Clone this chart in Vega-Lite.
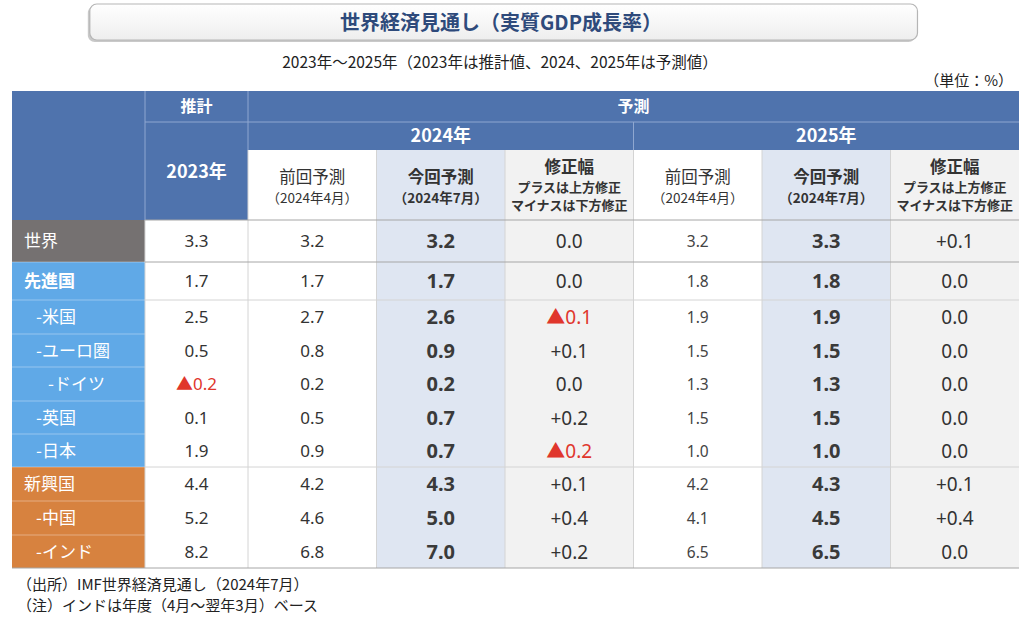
{
  "$schema": "https://vega.github.io/schema/vega-lite/v6.json",
  "width": 1024,
  "height": 617,
  "autosize": {"type": "fit", "contains": "padding"},
  "padding": 0,
  "background": "white",
  "config": {"view": {"stroke": null}},
  "datasets": {
    "boxes": [{"c": 0.585, "c2": 7.21, "r": -5, "r2": -3}],
    "cols": [
      {"k": "name", "c": 0},
      {"k": "y23", "c": 1.5}, {"k": "p24", "c": 2.5}, {"k": "n24", "c": 3.5}, {"k": "d24", "c": 4.5},
      {"k": "p25", "c": 5.5}, {"k": "n25", "c": 6.5}, {"k": "d25", "c": 7.5}
    ],
    "rows": [
      {"name": "世界", "lv": 0, "r": 3.5, "y23": "3.3", "p24": "3.2", "n24": "3.2", "d24": "0.0", "p25": "3.2", "n25": "3.3", "d25": "+0.1"},
      {"name": "先進国", "lv": 0, "r": 4.5, "y23": "1.7", "p24": "1.7", "n24": "1.7", "d24": "0.0", "p25": "1.8", "n25": "1.8", "d25": "0.0"},
      {"name": "-米国", "lv": 1, "r": 5.5, "y23": "2.5", "p24": "2.7", "n24": "2.6", "d24": "▲0.1", "p25": "1.9", "n25": "1.9", "d25": "0.0"},
      {"name": "-ユーロ圏", "lv": 1, "r": 6.5, "y23": "0.5", "p24": "0.8", "n24": "0.9", "d24": "+0.1", "p25": "1.5", "n25": "1.5", "d25": "0.0"},
      {"name": "-ドイツ", "lv": 2, "r": 7.5, "y23": "▲0.2", "p24": "0.2", "n24": "0.2", "d24": "0.0", "p25": "1.3", "n25": "1.3", "d25": "0.0"},
      {"name": "-英国", "lv": 1, "r": 8.5, "y23": "0.1", "p24": "0.5", "n24": "0.7", "d24": "+0.2", "p25": "1.5", "n25": "1.5", "d25": "0.0"},
      {"name": "-日本", "lv": 1, "r": 9.5, "y23": "1.9", "p24": "0.9", "n24": "0.7", "d24": "▲0.2", "p25": "1.0", "n25": "1.0", "d25": "0.0"},
      {"name": "新興国", "lv": 0, "r": 10.5, "y23": "4.4", "p24": "4.2", "n24": "4.3", "d24": "+0.1", "p25": "4.2", "n25": "4.3", "d25": "+0.1"},
      {"name": "-中国", "lv": 1, "r": 11.5, "y23": "5.2", "p24": "4.6", "n24": "5.0", "d24": "+0.4", "p25": "4.1", "n25": "4.5", "d25": "+0.4"},
      {"name": "-インド", "lv": 1, "r": 12.5, "y23": "8.2", "p24": "6.8", "n24": "7.0", "d24": "+0.2", "p25": "6.5", "n25": "6.5", "d25": "0.0"}
    ],
    "bg": [
      {"c": 0, "c2": 8, "r": 0, "r2": 3, "k": "head"},
      {"c": 2, "c2": 3, "r": 2, "r2": 3, "k": "white"},
      {"c": 5, "c2": 6, "r": 2, "r2": 3, "k": "white"},
      {"c": 3, "c2": 4, "r": 2, "r2": 13, "k": "now"},
      {"c": 6, "c2": 7, "r": 2, "r2": 13, "k": "now"},
      {"c": 4, "c2": 5, "r": 2, "r2": 13, "k": "rev"},
      {"c": 7, "c2": 8, "r": 2, "r2": 13, "k": "rev"},
      {"c": 0, "c2": 1, "r": 3, "r2": 4, "k": "world"},
      {"c": 0, "c2": 1, "r": 4, "r2": 10, "k": "adv"},
      {"c": 0, "c2": 1, "r": 10, "r2": 13, "k": "emg"}
    ],
    "lines": [
      {"c": 1, "c2": 8, "r": 1, "r2": 1, "k": "hd"},
      {"c": 1, "c2": 1, "r": 0, "r2": 3, "k": "hd"},
      {"c": 2, "c2": 2, "r": 0, "r2": 2, "k": "hd"},
      {"c": 5, "c2": 5, "r": 1, "r2": 2, "k": "hd"},
      {"c": 0, "c2": 1, "r": 4, "r2": 4, "k": "lab"},
      {"c": 0, "c2": 1, "r": 5, "r2": 5, "k": "lab"},
      {"c": 0, "c2": 1, "r": 6, "r2": 6, "k": "lab"},
      {"c": 0, "c2": 1, "r": 7, "r2": 7, "k": "lab"},
      {"c": 0, "c2": 1, "r": 8, "r2": 8, "k": "lab"},
      {"c": 0, "c2": 1, "r": 9, "r2": 9, "k": "lab"},
      {"c": 0, "c2": 1, "r": 10, "r2": 10, "k": "lab"},
      {"c": 0, "c2": 1, "r": 11, "r2": 11, "k": "lab"},
      {"c": 0, "c2": 1, "r": 12, "r2": 12, "k": "lab"},
      {"c": 1, "c2": 1, "r": 3, "r2": 13, "k": "grid"},
      {"c": 2, "c2": 2, "r": 2, "r2": 13, "k": "grid"},
      {"c": 3, "c2": 3, "r": 2, "r2": 13, "k": "grid"},
      {"c": 4, "c2": 4, "r": 2, "r2": 13, "k": "grid"},
      {"c": 5, "c2": 5, "r": 2, "r2": 13, "k": "grid"},
      {"c": 6, "c2": 6, "r": 2, "r2": 13, "k": "grid"},
      {"c": 7, "c2": 7, "r": 2, "r2": 13, "k": "grid"},
      {"c": 1, "c2": 8, "r": 5, "r2": 5, "k": "grid"},
      {"c": 1, "c2": 8, "r": 10, "r2": 10, "k": "grid"},
      {"c": 1, "c2": 8, "r": 3, "r2": 3, "k": "major"},
      {"c": 1, "c2": 8, "r": 4, "r2": 4, "k": "major"},
      {"c": 0, "c2": 8, "r": 13, "r2": 13, "k": "major"}
    ],
    "texts": [
      {"t": "世界経済見通し（実質GDP成長率）", "c": 4, "r": -4, "s": "title"},
      {"t": "2023年～2025年（2023年は推計値、2024、2025年は予測値）", "c": 4, "r": -2, "s": "sub"},
      {"t": "（単位：%）", "c": 8, "r": -1, "s": "unit"},
      {"t": "（出所）IMF世界経済見通し（2024年7月）", "c": 0, "r": 14, "s": "foot"},
      {"t": "（注）インドは年度（4月～翌年3月）ベース", "c": 0, "r": 15, "s": "foot"},
      {"t": "推計", "c": 1.5, "r": 0.5, "s": "h1"},
      {"t": "予測", "c": 5, "r": 0.5, "s": "h1"},
      {"t": "2024年", "c": 3.5, "r": 1.5, "s": "h2"},
      {"t": "2025年", "c": 6.5, "r": 1.5, "s": "h2"},
      {"t": "2023年", "c": 1.5, "r": 2, "s": "h2s"},
      {"t": "前回予測", "c": 2.5, "r": 2.5, "s": "s1"},
      {"t": "（2024年4月）", "c": 2.5, "r": 2.5, "s": "s2"},
      {"t": "今回予測", "c": 3.5, "r": 2.5, "s": "b1"},
      {"t": "（2024年7月）", "c": 3.5, "r": 2.5, "s": "b2"},
      {"t": "修正幅", "c": 4.5, "r": 2.5, "s": "m1"},
      {"t": "プラスは上方修正", "c": 4.5, "r": 2.5, "s": "m2"},
      {"t": "マイナスは下方修正", "c": 4.5, "r": 2.5, "s": "m3"},
      {"t": "前回予測", "c": 5.5, "r": 2.5, "s": "s1"},
      {"t": "（2024年4月）", "c": 5.5, "r": 2.5, "s": "s2"},
      {"t": "今回予測", "c": 6.5, "r": 2.5, "s": "b1"},
      {"t": "（2024年7月）", "c": 6.5, "r": 2.5, "s": "b2"},
      {"t": "修正幅", "c": 7.5, "r": 2.5, "s": "m1"},
      {"t": "プラスは上方修正", "c": 7.5, "r": 2.5, "s": "m2"},
      {"t": "マイナスは下方修正", "c": 7.5, "r": 2.5, "s": "m3"}
    ]
  },
  "encoding": {
    "x": {"field": "c", "type": "quantitative", "axis": null,
      "scale": {"type": "linear", "domain": [0, 1, 2, 8], "range": [12, 145, 248, 1019], "nice": false, "zero": false}},
    "y": {"field": "r", "type": "quantitative", "axis": null,
      "scale": {"type": "linear", "domain": [-5, -4, -3, -2, -1, 0, 1, 2, 3, 4, 5, 6, 7, 8, 9, 10, 11, 12, 13, 14, 15],
        "range": [4, 24, 40, 63, 81, 91, 122, 150, 220, 262, 300, 334, 367, 401, 434, 467, 501, 535, 568, 585, 606], "nice": false, "zero": false}}
  },
  "layer": [
    {"data": {"name": "boxes"},
      "mark": {"type": "rect", "cornerRadius": 7, "fill": "#C9C9C9", "xOffset": -2, "x2Offset": -2, "yOffset": 2, "y2Offset": 2},
      "encoding": {"x2": {"field": "c2"}, "y2": {"field": "r2"}}},
    {"data": {"name": "boxes"},
      "mark": {"type": "rect", "cornerRadius": 7, "stroke": "#B5B5B5", "strokeWidth": 1.2,
        "fill": {"gradient": "linear", "x1": 0, "y1": 0, "x2": 0, "y2": 1, "stops": [{"offset": 0, "color": "#FFFFFF"}, {"offset": 1, "color": "#EEEEEE"}]}},
      "encoding": {"x2": {"field": "c2"}, "y2": {"field": "r2"}}},
    {"data": {"name": "bg"},
      "mark": {"type": "rect"},
      "encoding": {"x2": {"field": "c2"}, "y2": {"field": "r2"},
        "fill": {"field": "k", "type": "nominal", "legend": null,
          "scale": {"domain": ["head", "white", "now", "rev", "world", "adv", "emg"],
            "range": ["#4F73AD", "#FFFFFF", "#DFE6F2", "#F2F2F2", "#757171", "#60A9E7", "#D7823F"]}}}},
    {"data": {"name": "lines"},
      "mark": {"type": "rule"},
      "encoding": {"x2": {"field": "c2"}, "y2": {"field": "r2"},
        "stroke": {"field": "k", "type": "nominal", "legend": null,
          "scale": {"domain": ["hd", "lab", "grid", "major"], "range": ["#8FA7D0", "rgba(255,255,255,0.35)", "#D4D4D4", "#A6A6A6"]}},
        "strokeWidth": {"field": "k", "type": "ordinal", "legend": null,
          "scale": {"domain": ["hd", "lab", "grid", "major"], "range": [1, 1, 1, 2]}}}},
    {"data": {"name": "texts"}, "transform": [{"filter": "datum.s==='title'"}],
      "mark": {"type": "text", "font": "Noto Sans CJK JP", "fontWeight": "bold", "fontSize": 20, "color": "#2E4A7B", "baseline": "middle", "dx": -4},
      "encoding": {"text": {"field": "t"}}},
    {"data": {"name": "texts"}, "transform": [{"filter": "datum.s==='sub'"}],
      "mark": {"type": "text", "font": "Noto Sans CJK JP", "fontSize": 15.5, "color": "#222222", "baseline": "middle", "dx": -5},
      "encoding": {"text": {"field": "t"}}},
    {"data": {"name": "texts"}, "transform": [{"filter": "datum.s==='unit'"}],
      "mark": {"type": "text", "font": "Noto Sans CJK JP", "fontSize": 15, "color": "#222222", "baseline": "middle", "align": "right", "dx": -6},
      "encoding": {"text": {"field": "t"}}},
    {"data": {"name": "texts"}, "transform": [{"filter": "datum.s==='foot'"}],
      "mark": {"type": "text", "font": "Noto Sans CJK JP", "fontSize": 15, "color": "#222222", "baseline": "middle", "align": "left", "dx": 5},
      "encoding": {"text": {"field": "t"}}},
    {"data": {"name": "texts"}, "transform": [{"filter": "datum.s==='h1'"}],
      "mark": {"type": "text", "font": "Noto Sans CJK JP", "fontWeight": "bold", "fontSize": 16, "color": "#FFFFFF", "baseline": "middle"},
      "encoding": {"text": {"field": "t"}}},
    {"data": {"name": "texts"}, "transform": [{"filter": "datum.s==='h2'"}],
      "mark": {"type": "text", "font": "Noto Sans CJK JP", "fontWeight": "bold", "fontSize": 18, "color": "#FFFFFF", "baseline": "middle", "dy": 1},
      "encoding": {"text": {"field": "t"}}},
    {"data": {"name": "texts"}, "transform": [{"filter": "datum.s==='h2s'"}],
      "mark": {"type": "text", "font": "Noto Sans CJK JP", "fontWeight": "bold", "fontSize": 18, "color": "#FFFFFF", "baseline": "middle", "dy": 23},
      "encoding": {"text": {"field": "t"}}},
    {"data": {"name": "texts"}, "transform": [{"filter": "datum.s==='s1'"}],
      "mark": {"type": "text", "font": "Noto Sans CJK JP", "fontSize": 16.5, "color": "#333333", "baseline": "middle", "dy": -7.5},
      "encoding": {"text": {"field": "t"}}},
    {"data": {"name": "texts"}, "transform": [{"filter": "datum.s==='s2'"}],
      "mark": {"type": "text", "font": "Noto Sans CJK JP", "fontSize": 13.5, "color": "#333333", "baseline": "middle", "dy": 13.5},
      "encoding": {"text": {"field": "t"}}},
    {"data": {"name": "texts"}, "transform": [{"filter": "datum.s==='b1'"}],
      "mark": {"type": "text", "font": "Noto Sans CJK JP", "fontWeight": "bold", "fontSize": 16.5, "color": "#333333", "baseline": "middle", "dy": -7.5},
      "encoding": {"text": {"field": "t"}}},
    {"data": {"name": "texts"}, "transform": [{"filter": "datum.s==='b2'"}],
      "mark": {"type": "text", "font": "Noto Sans CJK JP", "fontWeight": "bold", "fontSize": 13.5, "color": "#333333", "baseline": "middle", "dy": 13.5},
      "encoding": {"text": {"field": "t"}}},
    {"data": {"name": "texts"}, "transform": [{"filter": "datum.s==='m1'"}],
      "mark": {"type": "text", "font": "Noto Sans CJK JP", "fontWeight": "bold", "fontSize": 16.5, "color": "#333333", "baseline": "middle", "dy": -17.5},
      "encoding": {"text": {"field": "t"}}},
    {"data": {"name": "texts"}, "transform": [{"filter": "datum.s==='m2'"}],
      "mark": {"type": "text", "font": "Noto Sans CJK JP", "fontWeight": "bold", "fontSize": 13, "color": "#333333", "baseline": "middle", "dy": 3},
      "encoding": {"text": {"field": "t"}}},
    {"data": {"name": "texts"}, "transform": [{"filter": "datum.s==='m3'"}],
      "mark": {"type": "text", "font": "Noto Sans CJK JP", "fontWeight": "bold", "fontSize": 13, "color": "#333333", "baseline": "middle", "dy": 20.5},
      "encoding": {"text": {"field": "t"}}},
    {"data": {"name": "rows"},
      "transform": [
        {"fold": ["name"], "as": ["k", "v"]},
        {"lookup": "k", "from": {"data": {"name": "cols"}, "key": "k", "fields": ["c"]}},
        {"filter": "datum.lv===0 && datum.v!=='先進国'"}
      ],
      "mark": {"type": "text", "font": "Noto Sans CJK JP", "fontSize": 17, "color": "#FFFFFF", "baseline": "middle", "align": "left", "dx": 12, "dy": 1},
      "encoding": {"text": {"field": "v"}}},
    {"data": {"name": "rows"},
      "transform": [
        {"fold": ["name"], "as": ["k", "v"]},
        {"lookup": "k", "from": {"data": {"name": "cols"}, "key": "k", "fields": ["c"]}},
        {"filter": "datum.v==='先進国'"}
      ],
      "mark": {"type": "text", "font": "Noto Sans CJK JP", "fontWeight": "bold", "fontSize": 17, "color": "#FFFFFF", "baseline": "middle", "align": "left", "dx": 12, "dy": 1},
      "encoding": {"text": {"field": "v"}}},
    {"data": {"name": "rows"},
      "transform": [
        {"fold": ["name"], "as": ["k", "v"]},
        {"lookup": "k", "from": {"data": {"name": "cols"}, "key": "k", "fields": ["c"]}},
        {"filter": "datum.lv===1"}
      ],
      "mark": {"type": "text", "font": "Noto Sans CJK JP", "fontSize": 17, "color": "#FFFFFF", "baseline": "middle", "align": "left", "dx": 24, "dy": 1},
      "encoding": {"text": {"field": "v"}}},
    {"data": {"name": "rows"},
      "transform": [
        {"fold": ["name"], "as": ["k", "v"]},
        {"lookup": "k", "from": {"data": {"name": "cols"}, "key": "k", "fields": ["c"]}},
        {"filter": "datum.lv===2"}
      ],
      "mark": {"type": "text", "font": "Noto Sans CJK JP", "fontSize": 17, "color": "#FFFFFF", "baseline": "middle", "align": "left", "dx": 36, "dy": 1},
      "encoding": {"text": {"field": "v"}}},
    {"data": {"name": "rows"},
      "transform": [
        {"fold": ["y23", "p24", "n24", "d24", "p25", "n25", "d25"], "as": ["k", "v"]},
        {"lookup": "k", "from": {"data": {"name": "cols"}, "key": "k", "fields": ["c"]}},
        {"filter": {"field": "k", "oneOf": ["y23", "p24"]}}
      ],
      "mark": {"type": "text", "font": "Noto Sans, Noto Sans CJK JP", "fontSize": 17, "baseline": "middle", "dy": 1},
      "encoding": {"text": {"field": "v"},
        "color": {"condition": {"test": "indexof(datum.v,'▲')===0", "value": "#E0362C"}, "value": "#333333"}}},
    {"data": {"name": "rows"},
      "transform": [
        {"fold": ["y23", "p24", "n24", "d24", "p25", "n25", "d25"], "as": ["k", "v"]},
        {"lookup": "k", "from": {"data": {"name": "cols"}, "key": "k", "fields": ["c"]}},
        {"filter": {"field": "k", "oneOf": ["p25"]}}
      ],
      "mark": {"type": "text", "font": "Noto Sans, Noto Sans CJK JP", "fontSize": 15.5, "baseline": "middle", "dy": 1, "color": "#444444"},
      "encoding": {"text": {"field": "v"}}},
    {"data": {"name": "rows"},
      "transform": [
        {"fold": ["y23", "p24", "n24", "d24", "p25", "n25", "d25"], "as": ["k", "v"]},
        {"lookup": "k", "from": {"data": {"name": "cols"}, "key": "k", "fields": ["c"]}},
        {"filter": {"field": "k", "oneOf": ["n24", "n25"]}}
      ],
      "mark": {"type": "text", "font": "Noto Sans, Noto Sans CJK JP", "fontWeight": "bold", "fontSize": 20, "baseline": "middle", "dy": 1, "color": "#3A3A3A"},
      "encoding": {"text": {"field": "v"}}},
    {"data": {"name": "rows"},
      "transform": [
        {"fold": ["y23", "p24", "n24", "d24", "p25", "n25", "d25"], "as": ["k", "v"]},
        {"lookup": "k", "from": {"data": {"name": "cols"}, "key": "k", "fields": ["c"]}},
        {"filter": {"field": "k", "oneOf": ["d24", "d25"]}}
      ],
      "mark": {"type": "text", "font": "Noto Sans, Noto Sans CJK JP", "fontSize": 19, "baseline": "middle", "dy": 1},
      "encoding": {"text": {"field": "v"},
        "color": {"condition": {"test": "indexof(datum.v,'▲')===0", "value": "#E0362C"}, "value": "#333333"}}}
  ]
}
